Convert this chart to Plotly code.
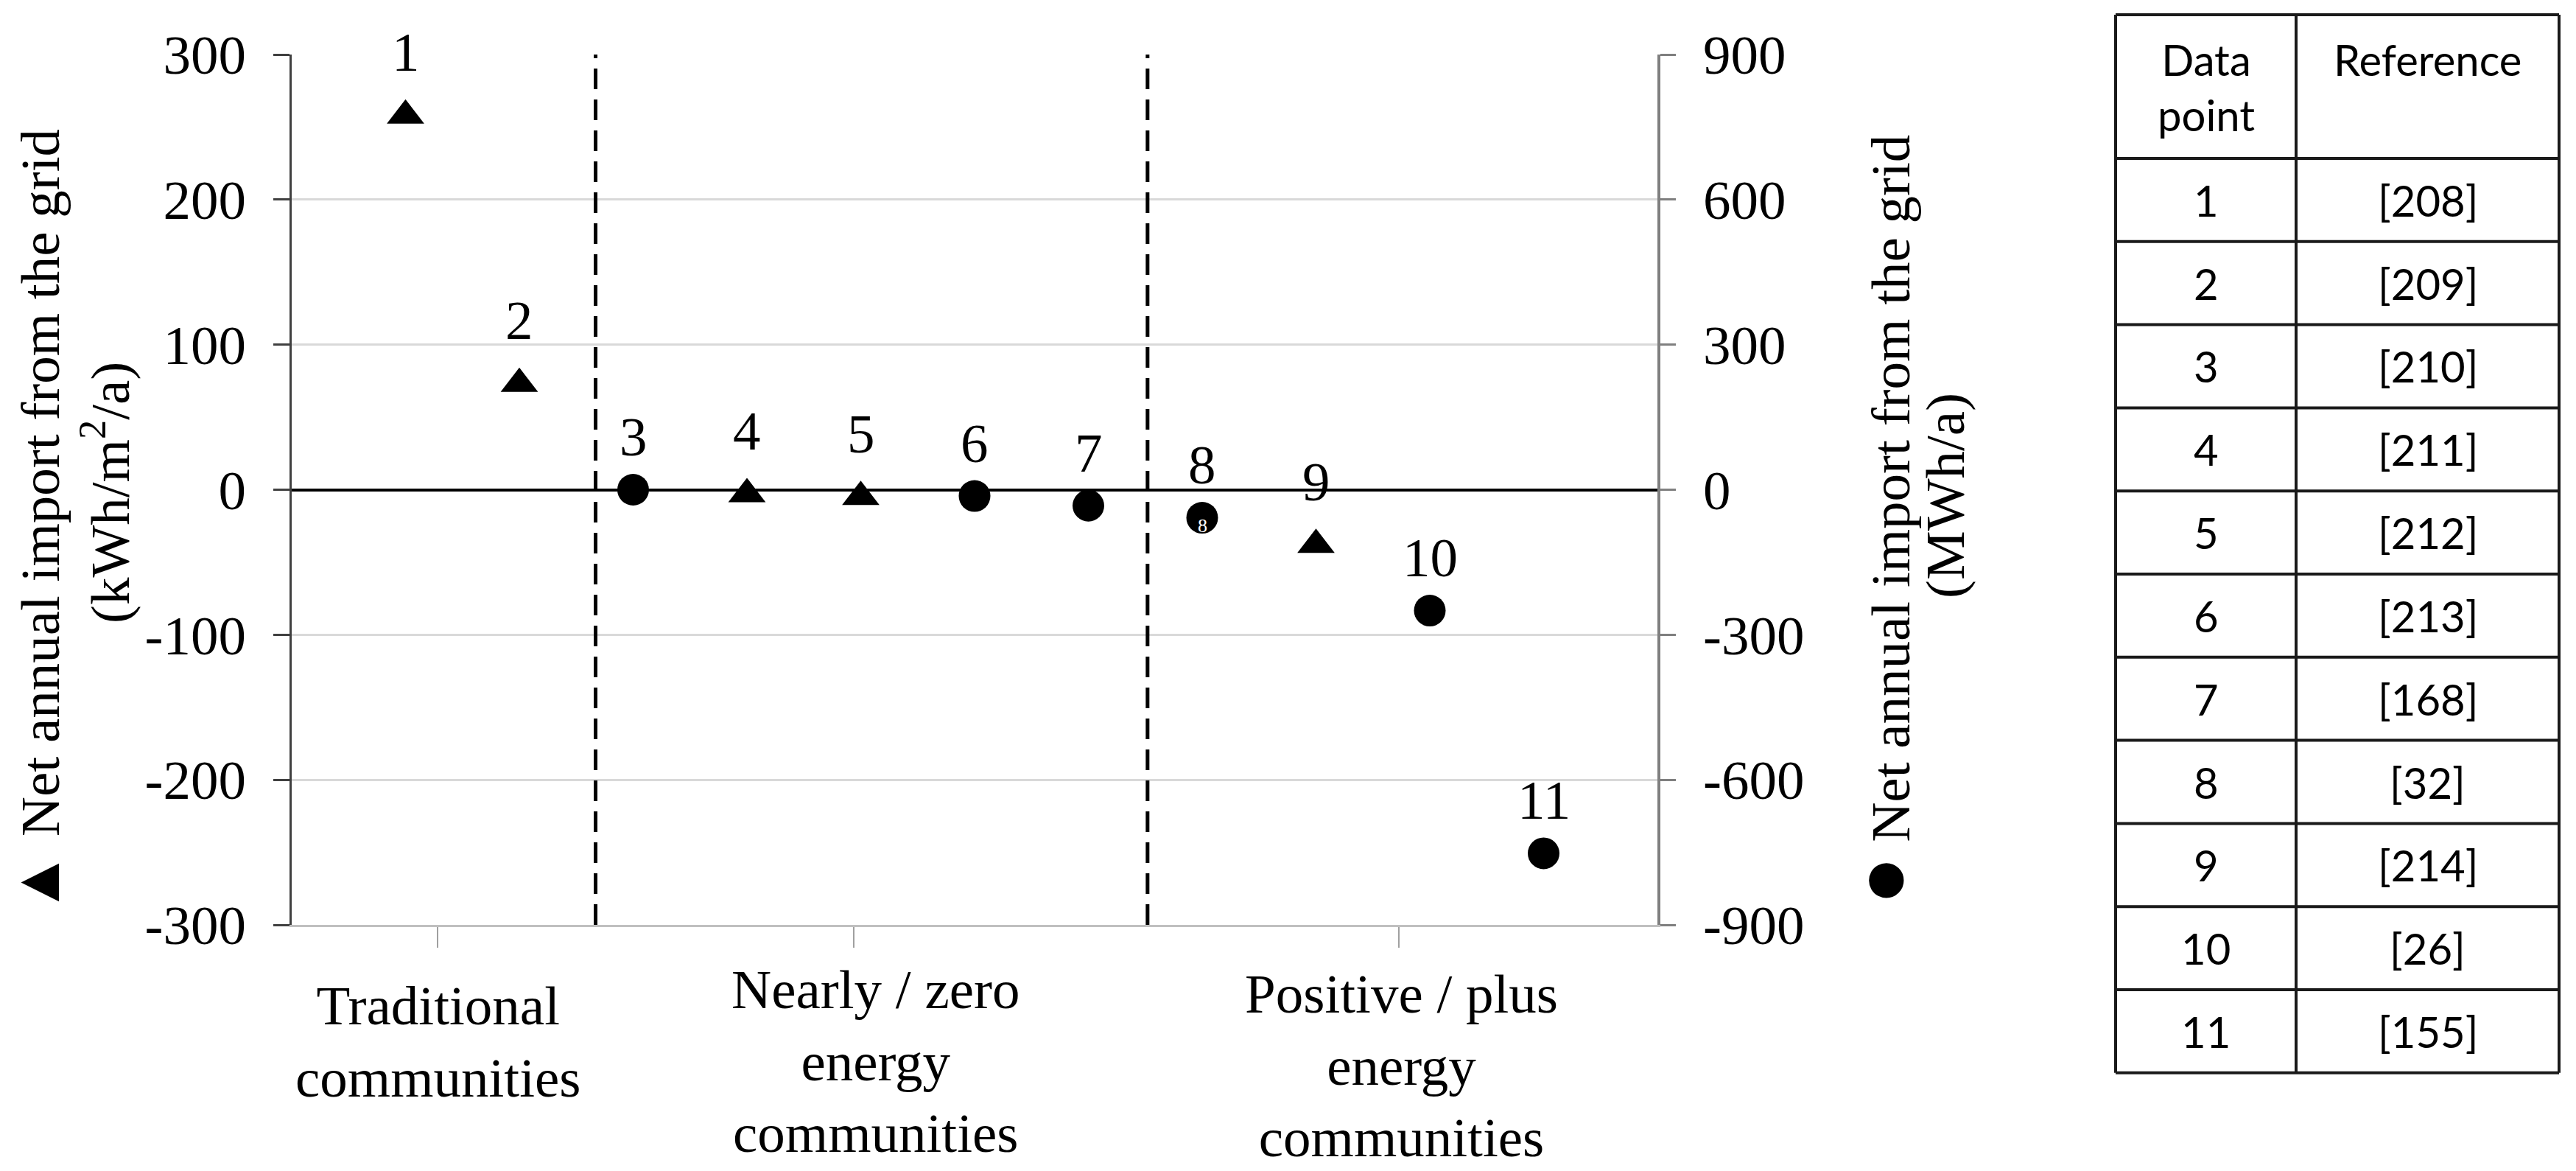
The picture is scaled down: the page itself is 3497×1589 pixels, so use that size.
import plotly.graph_objects as go

# ---------------- data ----------------
tri_points = [1, 2, 4, 5, 9]            # data point numbers, left axis (kWh/m2/a)
tri_values = [258, 73, -3, -5, -38]
circ_points = [3, 6, 7, 8, 10, 11]      # data point numbers, right axis (MWh/a)
circ_values = [0, -13, -33, -58, -250, -752]

left_ticks = [-300, -200, -100, 0, 100, 200, 300]
left_tick_text = ["-300", "-200", "-100", "0", "100", "200", "300"]
right_ticks = [-900, -600, -300, 0, 300, 600, 900]
right_tick_text = ["-900", "-600", "-300", "0", "300", "600", "900"]

categories = ["Traditional<br>communities",
              "Nearly / zero<br>energy<br>communities",
              "Positive / plus<br>energy<br>communities"]
table_points = ["1", "2", "3", "4", "5", "6", "7", "8", "9", "10", "11"]
table_refs = ["[208]", "[209]", "[210]", "[211]", "[212]", "[213]", "[168]",
              "[32]", "[214]", "[26]", "[155]"]

# ---------------- layout constants (pixels) ----------------
W, H = 3497, 1589
PL, PR, PT, PB = 396, 2250, 74, 1255
def px_x(px):
    return (px - PL) / (PR - PL)
def px_y(py):
    return (PB - py) / (PB - PT)

SERIF = "Liberation Serif"
SANS = "Lato"
FS = 75

cat_pos = [1.28, 4.94, 9.73]
cat_label_x = [594, 1188, 1902]
cat_label_y = [1413, 1440, 1446]
divider_pos = [2.67, 7.52]

fig = go.Figure()
fig.add_trace(go.Scatter(
    x=tri_points, y=tri_values, mode="markers", yaxis="y",
    marker=dict(symbol="triangle-up", size=44, color="black"),
    cliponaxis=False, showlegend=False, hoverinfo="skip"))
fig.add_trace(go.Scatter(
    x=circ_points, y=circ_values, mode="markers", yaxis="y2",
    marker=dict(symbol="circle", size=43, color="black"),
    cliponaxis=False, showlegend=False, hoverinfo="skip"))

annotations = []
# point labels
for p, v in zip(tri_points, tri_values):
    annotations.append(dict(x=p, y=v, xref="x", yref="y", text=str(p),
                            showarrow=False, yshift=86, xanchor="center",
                            yanchor="middle",
                            font=dict(family=SERIF, size=FS, color="black")))
for p, v in zip(circ_points, circ_values):
    annotations.append(dict(x=p, y=v, xref="x", yref="y2", text=str(p),
                            showarrow=False, yshift=72, xanchor="center",
                            yanchor="middle",
                            font=dict(family=SERIF, size=FS, color="black")))
# tiny white artefact label inside point 8
annotations.append(dict(x=circ_points[3], y=circ_values[3], xref="x", yref="y2",
                        text=str(circ_points[3]), showarrow=False, yshift=-11,
                        font=dict(family=SERIF, size=26, color="white")))

# axis titles
annotations += [
    dict(x=px_x(50), y=px_y(708), xref="paper", yref="paper", textangle=-90,
         text="<span style='font-size:88px'>\u25B2</span> Net annual import from the grid",
         showarrow=False, xanchor="center", yanchor="middle",
         font=dict(family=SERIF, size=FS, color="black")),
    dict(x=px_x(143), y=px_y(669), xref="paper", yref="paper", textangle=-90,
         text="(kWh/m<sup>2</sup>/a)", showarrow=False,
         xanchor="center", yanchor="middle",
         font=dict(family=SERIF, size=FS, color="black")),
    dict(x=px_x(2555), y=px_y(706), xref="paper", yref="paper", textangle=-90,
         text="<span style='font-size:110px'>\u25CF</span> Net annual import from the grid",
         showarrow=False, xanchor="center", yanchor="middle",
         font=dict(family=SERIF, size=FS, color="black")),
    dict(x=px_x(2641), y=px_y(673), xref="paper", yref="paper", textangle=-90,
         text="(MWh/a)", showarrow=False,
         xanchor="center", yanchor="middle",
         font=dict(family=SERIF, size=FS, color="black")),
]
# category labels
for txt, cx, cy in zip(categories, cat_label_x, cat_label_y):
    annotations.append(dict(x=px_x(cx), y=px_y(cy), xref="paper", yref="paper",
                            text=txt, showarrow=False, align="center",
                            xanchor="center", yanchor="middle",
                            font=dict(family=SERIF, size=FS, color="black")))

# ---------------- table ----------------
TX = [2872, 3117, 3474]
TY0, TH, RH = 20, 215, 112.8
shapes = []
for d in divider_pos:
    shapes.append(dict(type="line", xref="x", yref="paper", x0=d, x1=d, y0=0, y1=1,
                       line=dict(color="black", width=5, dash="28px,14px")))
n = len(table_points)
row_lines = [TY0, TH] + [TH + RH * (k + 1) for k in range(n)]
for yy in row_lines:
    shapes.append(dict(type="line", xref="paper", yref="paper",
                       x0=px_x(TX[0]), x1=px_x(TX[2]), y0=px_y(yy), y1=px_y(yy),
                       line=dict(color="#1a1a1a", width=4)))
for xx in TX:
    shapes.append(dict(type="line", xref="paper", yref="paper",
                       x0=px_x(xx), x1=px_x(xx), y0=px_y(TY0), y1=px_y(row_lines[-1]),
                       line=dict(color="#1a1a1a", width=4)))
c1 = (TX[0] + TX[1]) / 2
c2 = (TX[1] + TX[2]) / 2
TF = dict(family=SANS, size=58, color="black")
annotations.append(dict(x=px_x(c1), y=px_y(118), xref="paper", yref="paper",
                        text="Data<br>point", showarrow=False, font=TF,
                        xanchor="center", yanchor="middle", align="center"))
annotations.append(dict(x=px_x(c2), y=px_y(80), xref="paper", yref="paper",
                        text="Reference", showarrow=False, font=TF,
                        xanchor="center", yanchor="middle"))
for k, (a, b) in enumerate(zip(table_points, table_refs)):
    cy = TH + RH * (k + 0.5)
    annotations.append(dict(x=px_x(c1), y=px_y(cy), xref="paper", yref="paper",
                            text=a, showarrow=False, font=TF,
                            xanchor="center", yanchor="middle"))
    annotations.append(dict(x=px_x(c2), y=px_y(cy), xref="paper", yref="paper",
                            text=b, showarrow=False, font=TF,
                            xanchor="center", yanchor="middle"))

fig.update_layout(
    width=W, height=H, autosize=False,
    margin=dict(l=PL, r=W - PR, t=PT, b=H - PB, pad=0),
    paper_bgcolor="white", plot_bgcolor="white",
    font=dict(family=SERIF, size=FS, color="black"),
    showlegend=False,
    xaxis=dict(range=[0, 12], showgrid=False, zeroline=False,
               showline=True, linecolor="#c0c0c0", linewidth=3,
               tickmode="array", tickvals=cat_pos,
               ticks="outside", ticklen=28, tickwidth=2, tickcolor="#a0a0a0",
               showticklabels=False, fixedrange=True),
    yaxis=dict(range=[-300, 300], tickmode="array", tickvals=left_ticks,
               ticktext=left_tick_text,
               showgrid=True, gridcolor="#d9d9d9", gridwidth=3,
               zeroline=True, zerolinecolor="black", zerolinewidth=4,
               showline=True, linecolor="#404040", linewidth=3,
               ticks="outside", ticklen=22, tickwidth=3, tickcolor="#404040",
               ticklabelstandoff=22,
               tickfont=dict(family=SERIF, size=FS, color="black")),
    yaxis2=dict(range=[-900, 900], tickmode="array", tickvals=right_ticks,
                ticktext=right_tick_text, overlaying="y", side="right",
                showgrid=False, zeroline=False,
                showline=True, linecolor="#7f7f7f", linewidth=4,
                ticks="outside", ticklen=21, tickwidth=3, tickcolor="#7f7f7f",
                ticklabelstandoff=22,
                tickfont=dict(family=SERIF, size=FS, color="black")),
    annotations=annotations,
    shapes=shapes,
)

fig.write_html("out.html", config={"displayModeBar": False},
               post_script="document.body.style.margin='0';document.body.style.overflow='hidden';")
